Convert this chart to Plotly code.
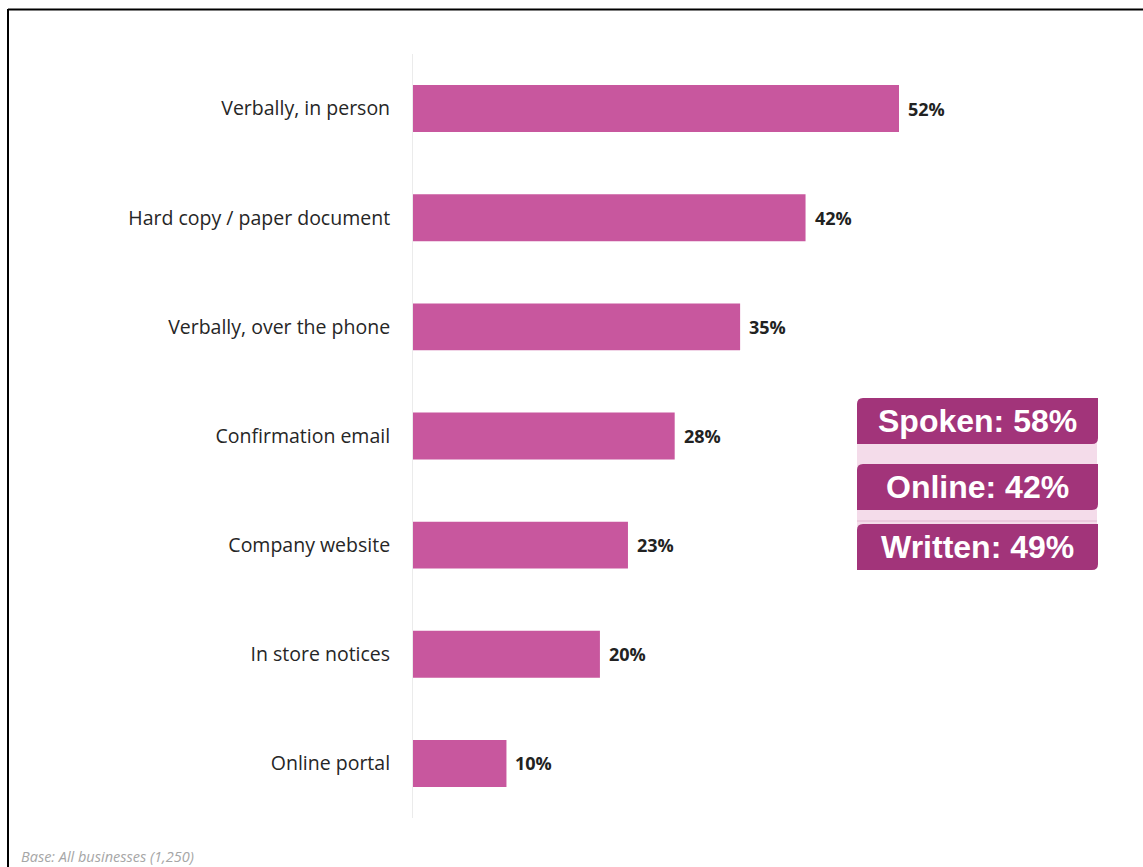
import plotly.graph_objects as go

# Share of businesses using each communication channel
channels = [
    "Verbally, in person",
    "Hard copy / paper document",
    "Verbally, over the phone",
    "Confirmation email",
    "Company website",
    "In store notices",
    "Online portal",
]
shares = [52, 42, 35, 28, 23, 20, 10]

# Grouped summary totals
group_names = ["Spoken", "Online", "Written"]
group_shares = [58, 42, 49]

footnote = "Base: All businesses (1,250)"

W, H = 1143, 867
L, R, T, B = 413, 76, 54, 49
PW, PH = W - L - R, H - T - B

BAR = "#C8579E"
BOX = "#A2347A"
BAND = "#F4DCEA"


def px_x(p):
    return (p - L) / PW


def px_y(p):
    return 1 - (p - T) / PH


def rounded_box(x0, y0, x1, y1, r):
    # top-left and bottom-right corners rounded, in pixel units
    pts = [
        f"M {px_x(x0 + r)},{px_y(y0)}",
        f"L {px_x(x1)},{px_y(y0)}",
        f"L {px_x(x1)},{px_y(y1 - r)}",
        f"Q {px_x(x1)},{px_y(y1)} {px_x(x1 - r)},{px_y(y1)}",
        f"L {px_x(x0)},{px_y(y1)}",
        f"L {px_x(x0)},{px_y(y0 + r)}",
        f"Q {px_x(x0)},{px_y(y0)} {px_x(x0 + r)},{px_y(y0)}",
        "Z",
    ]
    return " ".join(pts)


fig = go.Figure(
    go.Bar(
        x=shares,
        y=channels,
        orientation="h",
        marker=dict(color=BAR, line=dict(width=0)),
        width=0.43,
        hoverinfo="skip",
    )
)

annotations = []
for ch, v in zip(channels, shares):
    annotations.append(
        dict(
            x=v, y=ch, xref="x", yref="y",
            text=f"<b>{v}%</b>", showarrow=False,
            xanchor="left", yanchor="middle", xshift=7,
            font=dict(family="Open Sans", size=18, color="#222222"),
        )
    )

shapes = []
# frame lines
shapes.append(dict(type="line", xref="paper", yref="paper",
                   x0=px_x(8), x1=px_x(W), y0=px_y(9.5), y1=px_y(9.5),
                   line=dict(color="black", width=2)))
shapes.append(dict(type="line", xref="paper", yref="paper",
                   x0=px_x(8), x1=px_x(8), y0=px_y(9), y1=px_y(H),
                   line=dict(color="black", width=2)))

# summary panel
bx0, bx1 = 857, 1098
box_rows = [(398, 444), (464, 510), (524, 570)]
shapes.append(dict(type="rect", xref="paper", yref="paper",
                   x0=px_x(bx0), x1=px_x(bx1 - 1), y0=px_y(440), y1=px_y(528),
                   fillcolor=BAND, line=dict(width=0), layer="above"))
shapes.append(dict(type="line", xref="paper", yref="paper",
                   x0=px_x(bx0), x1=px_x(bx1 - 1), y0=px_y(521), y1=px_y(521),
                   line=dict(color="#E8C3D8", width=1.5), layer="above"))
for (y0, y1), name, val in zip(box_rows, group_names, group_shares):
    shapes.append(dict(type="path", xref="paper", yref="paper",
                       path=rounded_box(bx0, y0, bx1, y1, 6),
                       fillcolor=BOX, line=dict(width=0), layer="above"))
    annotations.append(
        dict(
            x=px_x((bx0 + bx1) / 2), y=px_y((y0 + y1) / 2),
            xref="paper", yref="paper",
            text=f"<b>{name}: {val}%</b>", showarrow=False,
            xanchor="center", yanchor="middle",
            font=dict(family="Liberation Sans, Arial", size=32, color="white"),
        )
    )

annotations.append(
    dict(
        x=px_x(19), y=px_y(857), xref="paper", yref="paper",
        text=f"<i>{footnote}</i>", showarrow=False,
        xanchor="left", yanchor="middle",
        font=dict(family="Open Sans", size=14.5, color="#A6A6A6"),
    )
)

fig.update_layout(
    width=W, height=H,
    margin=dict(l=L, r=R, t=T, b=B, autoexpand=False),
    paper_bgcolor="white", plot_bgcolor="white",
    showlegend=False,
    xaxis=dict(range=[0, PW / ((899 - 413) / 52)], visible=False, fixedrange=True),
    yaxis=dict(
        autorange="reversed",
        showgrid=False, zeroline=False,
        showline=True, linecolor="#EBEBEB", linewidth=1,
        ticks="", ticklabelstandoff=18,
        tickfont=dict(family="Open Sans", size=19.5, color="#262626"),
        fixedrange=True,
    ),
    shapes=shapes,
    annotations=annotations,
)

fig.write_html("out.html")
